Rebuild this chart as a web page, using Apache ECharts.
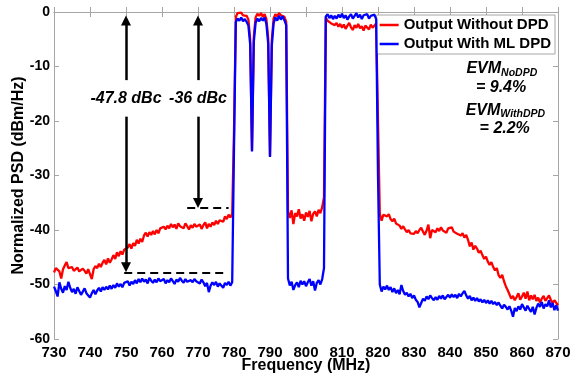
<!DOCTYPE html>
<html>
<head>
<meta charset="utf-8">
<script src="https://cdn.jsdelivr.net/npm/echarts@6/dist/echarts.min.js"></script>
<style>
  html, body { margin: 0; padding: 0; background: #fff; }
  #chart { width: 571px; height: 376px; }
</style>
</head>
<body>
<div id="chart"></div>
<script>
// Spectrum sample grid (MHz)
const freqStart = 730;
const freqStep = 0.5;

// PSD of the PA output without predistortion (dBm/Hz), one row per 10 MHz
const withoutDpd = [
  -47.8, -47.0, -46.8, -47.6, -48.9, -47.2, -46.5, -45.9, -47.0, -47.3, -46.8, -47.5, -47.2, -46.9, -47.6, -47.8, -47.1, -47.5, -48.0, -47.2,
  -47.4, -49.0, -47.2, -46.6, -47.0, -46.2, -46.8, -46.0, -45.5, -46.3, -45.2, -46.0, -45.4, -44.6, -45.3, -44.1, -44.8, -43.9, -44.5, -43.6,
  -43.9, -43.2, -42.6, -43.4, -42.4, -42.9, -41.8, -42.5, -41.6, -42.2, -41.0, -40.5, -41.2, -40.4, -40.9, -40.2, -40.8, -40.0, -40.6, -39.7,
  -40.0, -39.4, -39.9, -39.2, -39.7, -38.9, -39.5, -39.0, -39.8, -38.8, -39.3, -39.0, -39.7, -38.8, -39.3, -39.9, -39.1, -39.6, -38.9, -39.4,
  -39.6, -39.0, -39.8, -39.1, -38.6, -39.7, -38.9, -39.4, -38.6, -39.1, -38.3, -38.9, -38.2, -37.9, -38.5, -37.5, -38.0, -37.2, -37.7, -37.0,
  -22.0, -0.9, -0.2, -0.5, -0.1, -0.6, -0.3, -0.7, -1.4, -5.0, -25.4, -4.5, -1.0, -0.3, -0.7, -0.2, -0.9, -0.4, -1.3, -4.8,
  -26.4, -5.2, -1.2, -0.4, -0.8, -0.2, -0.6, -0.3, -0.9, -1.8, -36.5, -37.8, -36.4, -38.9, -36.9, -37.5, -36.2, -37.9, -37.1, -38.3,
  -36.8, -37.6, -36.5, -38.4, -37.0, -36.6, -37.5, -36.3, -36.9, -35.8, -34.0, -1.0, -1.6, -1.3, -2.1, -1.8, -2.4, -2.0, -2.7, -2.2,
  -2.9, -2.3, -3.1, -2.5, -2.0, -2.8, -3.3, -2.4, -2.9, -2.2, -3.0, -2.6, -3.4, -2.5, -2.8, -3.2, -2.3, -2.9, -2.6, -2.1,
  -20.0, -37.0, -38.3, -37.2, -36.9, -37.5, -37.1, -38.0, -38.4, -37.9, -38.8, -38.5, -39.2, -39.8, -39.3, -39.9, -40.4, -40.0, -40.6, -40.3,
  -40.7, -40.2, -40.6, -40.0, -39.6, -40.3, -40.9, -40.1, -39.0, -41.5, -40.0, -39.8, -40.4, -39.7, -40.2, -39.5, -40.1, -39.8, -40.5, -39.7,
  -40.0, -39.5, -40.3, -40.1, -40.7, -40.4, -41.0, -40.6, -41.4, -40.9, -41.8, -43.0, -42.3, -43.6, -42.9, -43.4, -44.2, -43.8, -44.6, -45.3,
  -44.9, -45.8, -46.4, -45.9, -46.8, -47.4, -47.0, -48.3, -48.8, -48.2, -49.4, -50.3, -51.0, -51.8, -52.6, -52.1, -52.9, -52.3, -51.6, -52.8,
  -52.2, -51.5, -52.6, -51.3, -52.9, -52.0, -52.7, -51.9, -53.0, -52.4, -53.3, -52.6, -52.1, -53.0, -52.5, -52.0, -52.8, -53.4, -52.9, -53.2,
  -53.8
];

// PSD of the PA output linearised by the ML-based DPD (dBm/Hz)
const withMlDpd = [
  -50.4, -51.2, -52.2, -49.6, -50.8, -51.5, -50.3, -51.0, -49.5, -50.6, -51.4, -50.8, -51.7, -50.5, -51.2, -51.9, -51.3, -50.7, -51.6, -52.0,
  -52.4, -51.6, -51.0, -51.8, -51.1, -50.6, -51.3, -50.5, -51.0, -50.4, -50.9, -50.2, -50.8, -50.1, -50.6, -49.8, -50.4, -49.9, -50.5, -49.7,
  -50.0, -49.4, -50.2, -49.5, -49.9, -49.2, -49.8, -49.0, -49.6, -48.9, -49.5, -49.1, -49.8, -48.8, -49.3, -49.7, -49.1, -49.6, -48.9, -49.4,
  -49.5, -49.0, -49.8, -49.2, -49.6, -48.9, -49.4, -49.9, -49.1, -49.5, -48.8, -49.3, -49.7, -49.0, -49.5, -49.8, -49.2, -49.6, -49.0, -49.4,
  -49.3, -49.8, -49.1, -49.6, -50.3, -49.7, -51.4, -50.2, -49.6, -50.1, -49.5, -50.4, -49.8, -50.0, -50.6, -49.7, -50.1, -49.5, -50.2, -49.6,
  -25.0, -1.9, -1.2, -1.6, -1.0, -1.7, -1.3, -1.8, -2.5, -6.0, -25.6, -5.5, -2.0, -1.2, -1.7, -1.1, -1.6, -1.0, -2.2, -5.8,
  -26.6, -6.2, -2.1, -1.0, -1.6, -0.7, -1.4, -0.8, -1.5, -2.4, -48.9, -50.2, -49.5, -51.0, -50.1, -49.6, -50.5, -49.3, -50.0, -49.4,
  -50.3, -49.6, -49.0, -50.2, -49.4, -51.1, -49.7, -49.2, -50.0, -49.0, -47.0, -0.8, -0.4, -1.1, -0.6, -1.3, -0.7, -1.2, -0.5, -1.0,
  -0.3, -1.1, -0.6, -1.4, -0.8, -0.4, -1.2, -0.7, -0.2, -1.0, -0.5, -1.3, -0.6, -0.9, -0.4, -1.2, -0.7, -1.0, -0.5, -1.3,
  -30.0, -50.0, -51.3, -50.4, -50.9, -50.2, -51.0, -50.5, -51.4, -50.7, -51.6, -51.0, -51.8, -50.1, -51.2, -51.9, -51.5, -52.2, -51.7, -52.5,
  -52.0, -52.8, -53.2, -54.2, -53.4, -52.6, -53.0, -52.2, -52.7, -52.0, -52.5, -52.9, -52.3, -52.8, -52.1, -52.6, -52.0, -52.7, -52.3, -51.9,
  -52.4, -51.8, -52.3, -51.9, -52.5, -51.7, -52.2, -51.6, -51.2, -52.0, -52.6, -52.1, -52.9, -52.4, -53.0, -52.5, -53.1, -52.7, -53.3, -52.8,
  -53.4, -52.9, -53.5, -53.0, -53.6, -53.2, -53.8, -53.3, -53.9, -54.4, -53.7, -54.1, -54.6, -54.0, -54.8, -55.9, -54.3, -54.9, -54.0, -54.6,
  -53.6, -54.2, -54.8, -53.9, -54.5, -55.0, -54.1, -55.5, -54.3, -53.5, -54.1, -53.2, -54.4, -53.6, -54.0, -52.9, -54.2, -53.4, -54.7, -53.8,
  -54.8
];

// Axis ranges
const freqRange = [730, 870, 10];
const psdRange = [-60, 0, 10];

// Adjacent-channel leakage callouts: frequency of the arrow, level (dBc) and extent of the dashed reference
const aclrMarks = [
  { freq: 750, level: -47.8, dash: [749.5, 777] },
  { freq: 770, level: -36, dash: [767, 778.5] }
];

// EVM figures (%)
const evmNoDpd = 9.4;
const evmWithDpd = 2.2;

const seriesNames = ['Output Without DPD', 'Output With ML DPD'];
const seriesColors = ['#ff0000', '#0000ff'];

const FONT = '"Liberation Sans", Arial, Helvetica, sans-serif';
const freqs = withoutDpd.map((_, i) => freqStart + i * freqStep);
const pairs = vals => vals.map((v, i) => [freqs[i], v]);

// arrows: from the label gap up to 0 dB and down to the leakage level
const arrowTipUp = -0.6, labelTop = -12.5, labelBottom = -19.2, labelMid = -15.8;
const headHalf = 0.95; // half arrow-head height in dB
const arrowLines = [];
aclrMarks.forEach(m => {
  arrowLines.push([{ coord: [m.freq, labelTop] }, { coord: [m.freq, arrowTipUp - headHalf] }]);
  arrowLines.push([{ coord: [m.freq, labelBottom] }, { coord: [m.freq, m.level + headHalf] }]);
});
const dashLines = aclrMarks.map(m => [{ coord: [m.dash[0], m.level] }, { coord: [m.dash[1], m.level] }]);
const arrowLabels = aclrMarks.map(m => ({ coord: [m.freq, labelMid], name: m.level + ' dBc' }));

const evmRich = {
  a: { fontFamily: FONT, fontSize: 16, fontWeight: 'bold', fontStyle: 'italic', color: '#000', lineHeight: 20 },
  b: { fontFamily: FONT, fontSize: 10.5, fontWeight: 'bold', fontStyle: 'italic', color: '#000', lineHeight: 12, verticalAlign: 'bottom' }
};
const evmLabels = [
  { coord: [854.4, -10.3], name: '{a|EVM}{b|NoDPD}' },
  { coord: [854.2, -13.9], name: '{a|= ' + evmNoDpd.toFixed(1) + '%}' },
  { coord: [855.4, -18.0], name: '{a|EVM}{b|WithDPD}' },
  { coord: [855.2, -21.4], name: '{a|= ' + evmWithDpd.toFixed(1) + '%}' }
];

const axisLineStyle = { color: '#a6a6a6', width: 1 };
const tickStyle = { show: true, inside: true, length: 5, lineStyle: { color: '#a6a6a6' } };

const chart = echarts.init(document.getElementById('chart'), null, { renderer: 'canvas' });
chart.setOption({
  animation: false,
  backgroundColor: '#fff',
  grid: { left: 54, right: 13, top: 12, bottom: 37, containLabel: false, outerBoundsMode: 'none' },
  legend: {
    data: seriesNames,
    orient: 'vertical',
    right: 16,
    top: 15,
    icon: 'rect',
    itemWidth: 19,
    itemHeight: 2.5,
    itemGap: 3,
    itemTextGap: 2,
    padding: [2, 4, 2, 3],
    backgroundColor: '#fff',
    borderColor: '#a6a6a6',
    borderWidth: 1,
    borderRadius: 0,
    textStyle: { fontFamily: FONT, fontSize: 15, fontWeight: 'bold', color: '#000', lineHeight: 16 },
    selectedMode: false
  },
  xAxis: [
    {
      type: 'value', min: freqRange[0], max: freqRange[1], interval: freqRange[2],
      position: 'bottom',
      name: 'Frequency (MHz)', nameLocation: 'middle', nameGap: 19, nameMoveOverlap: false,
      nameTextStyle: { fontFamily: FONT, fontSize: 16, fontWeight: 'bold', color: '#000' },
      axisLine: { show: true, lineStyle: axisLineStyle },
      axisTick: tickStyle,
      axisLabel: { fontFamily: FONT, fontSize: 15, fontWeight: 'bold', color: '#000', margin: 6 },
      splitLine: { show: false }
    },
    {
      type: 'value', min: freqRange[0], max: freqRange[1], interval: freqRange[2],
      position: 'top',
      axisLine: { show: true, lineStyle: axisLineStyle },
      axisTick: tickStyle,
      axisLabel: { show: false },
      splitLine: { show: false }
    }
  ],
  yAxis: [
    {
      type: 'value', min: psdRange[0], max: psdRange[1], interval: psdRange[2],
      position: 'left',
      name: 'Normalized PSD (dBm/Hz)', nameLocation: 'middle', nameGap: 27, nameMoveOverlap: false,
      nameTextStyle: { fontFamily: FONT, fontSize: 16, fontWeight: 'bold', color: '#000' },
      axisLine: { show: true, lineStyle: axisLineStyle },
      axisTick: tickStyle,
      axisLabel: { fontFamily: FONT, fontSize: 14, fontWeight: 'bold', color: '#000', margin: 4 },
      splitLine: { show: false }
    },
    {
      type: 'value', min: psdRange[0], max: psdRange[1], interval: psdRange[2],
      position: 'right',
      axisLine: { show: true, lineStyle: axisLineStyle },
      axisTick: tickStyle,
      axisLabel: { show: false },
      splitLine: { show: false }
    }
  ],
  series: [
    {
      name: seriesNames[0], type: 'line', data: pairs(withoutDpd),
      showSymbol: false, symbol: 'none', color: seriesColors[0],
      lineStyle: { color: seriesColors[0], width: 2.3 }, z: 3, silent: true
    },
    {
      name: seriesNames[1], type: 'line', data: pairs(withMlDpd),
      showSymbol: false, symbol: 'none', color: seriesColors[1],
      lineStyle: { color: seriesColors[1], width: 2.3 }, z: 4, silent: true
    },
    {
      name: 'arrows', type: 'line', data: [], silent: true, z: 5,
      markLine: {
        silent: true, animation: false,
        symbol: ['none', 'triangle'], symbolSize: 10,
        lineStyle: { color: '#000', width: 2.5, type: 'solid' },
        itemStyle: { color: '#000' },
        label: { show: false },
        emphasis: { disabled: true },
        data: arrowLines
      },
      markPoint: {
        silent: true, animation: false,
        symbol: 'circle', symbolSize: 1,
        itemStyle: { color: 'rgba(0,0,0,0)' },
        label: {
          show: true, position: 'inside', formatter: '{b}',
          fontFamily: FONT, fontSize: 16, fontWeight: 'bold', fontStyle: 'italic', color: '#000'
        },
        data: arrowLabels
      }
    },
    {
      name: 'levels', type: 'line', data: [], silent: true, z: 5,
      markLine: {
        silent: true, animation: false,
        symbol: ['none', 'none'],
        lineStyle: { color: '#000', width: 2, type: [8, 5] },
        label: { show: false },
        emphasis: { disabled: true },
        data: dashLines
      },
      markPoint: {
        silent: true, animation: false,
        symbol: 'circle', symbolSize: 1,
        itemStyle: { color: 'rgba(0,0,0,0)' },
        label: { show: true, position: 'inside', formatter: '{b}', rich: evmRich },
        data: evmLabels
      }
    }
  ]
});
</script>
</body>
</html>
